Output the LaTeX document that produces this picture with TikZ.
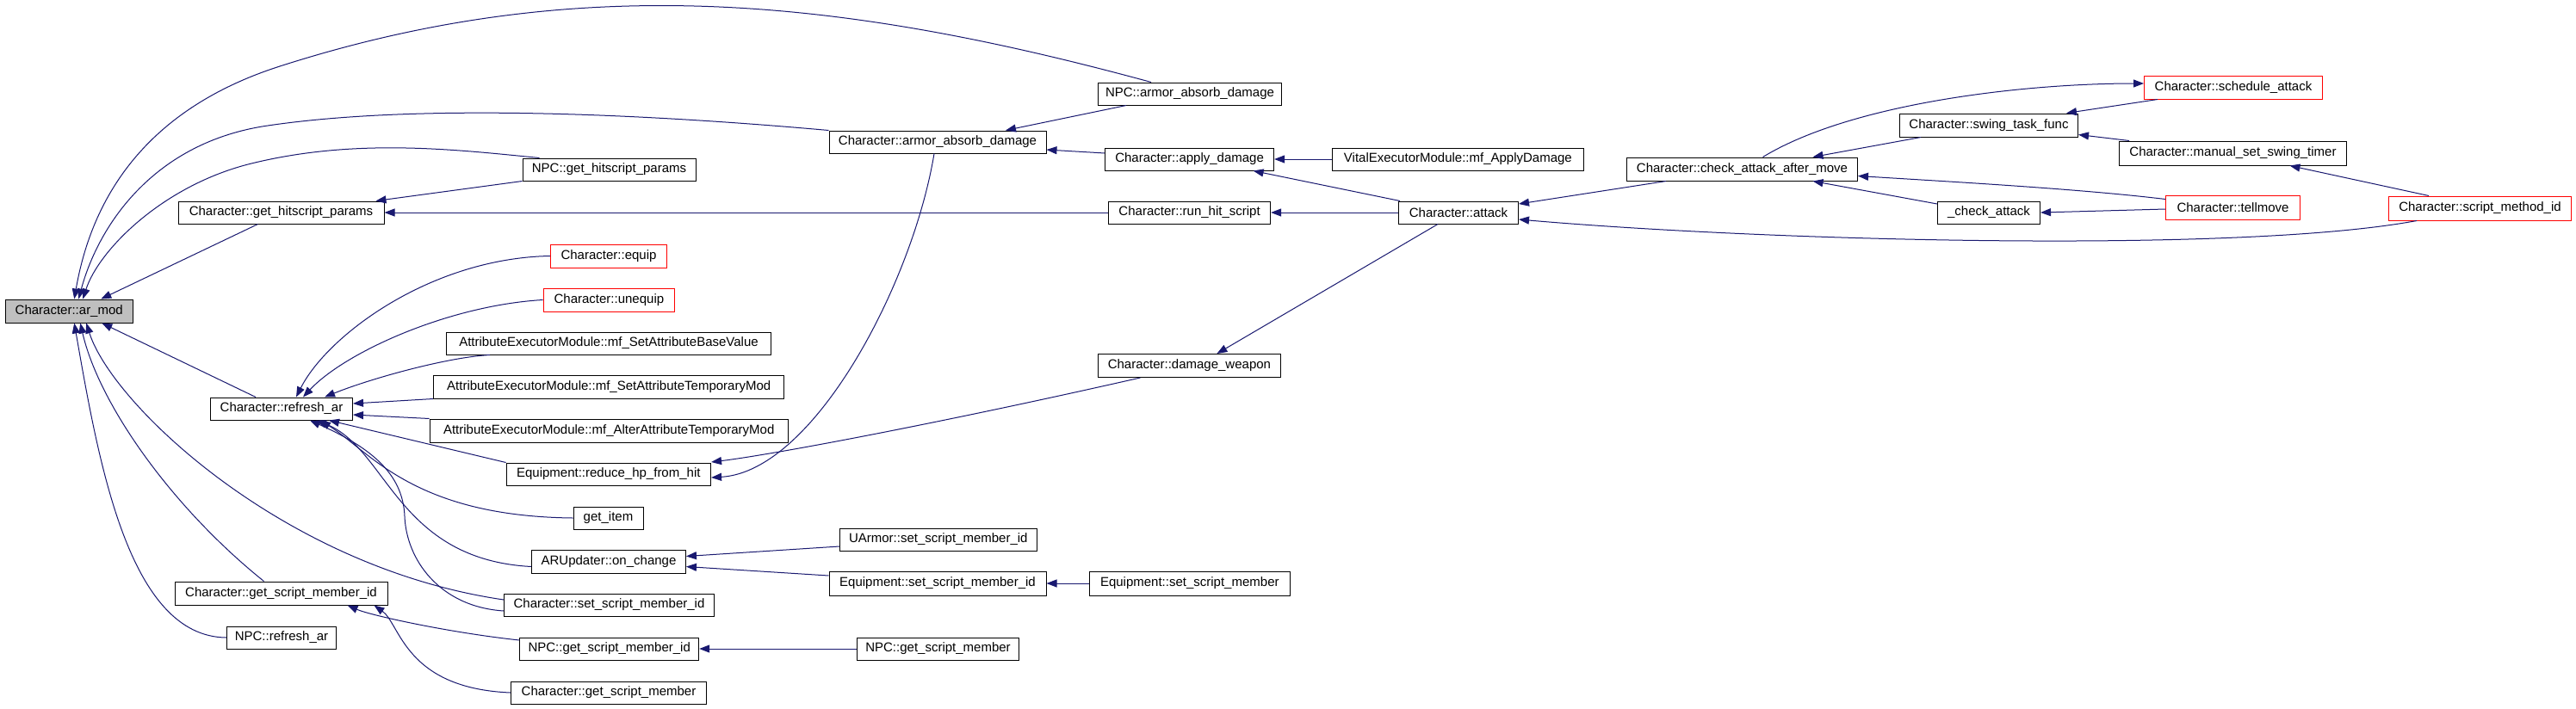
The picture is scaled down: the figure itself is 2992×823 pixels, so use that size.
\documentclass[tikz,border=0pt]{standalone}
\usepackage{fontspec}
\setmainfont{Liberation Sans}
\usetikzlibrary{arrows.meta}
\definecolor{edgeblue}{HTML}{191970}
\definecolor{nodegray}{HTML}{BFBFBF}
\definecolor{nodered}{HTML}{FF0000}
\begin{document}
\begin{tikzpicture}[x=1pt,y=-1pt,
  box/.style={draw=black, line width=1pt, inner sep=0pt, minimum height=27pt, font=\fontsize{15}{17}\selectfont, anchor=center},
  redbox/.style={box, draw=nodered},
  edge/.style={draw=edgeblue, line width=1pt, {Triangle[length=12pt,width=9pt]}-}]
\useasboundingbox (0,0) rectangle (2992,823);
\fill[white] (0,0) rectangle (2992,823);

% column 1
\node[box, minimum width=148.5pt, fill=nodegray] (armod) at (80.25,361.5) {Character::ar\_mod};
% column 2
\node[box, minimum width=239pt, minimum height=26pt] (gethit) at (326.5,247) {Character::get\_hitscript\_params};
\node[box, minimum width=165pt, minimum height=26pt] (refresh) at (327,475) {Character::refresh\_ar};
\node[box, minimum width=247pt] (getsmid) at (326.5,689.5) {Character::get\_script\_member\_id};
\node[box, minimum width=127pt, minimum height=26pt] (npcrefresh) at (327,741) {NPC::refresh\_ar};
% column 3
\node[box, minimum width=201pt, minimum height=26pt] (npcgethit) at (707.5,197) {NPC::get\_hitscript\_params};
\node[redbox, minimum width=135pt] (equip) at (707,297.5) {Character::equip};
\node[redbox, minimum width=152.7pt] (unequip) at (707.4,348.5) {Character::unequip};
\node[box, minimum width=377pt, minimum height=26pt] (setbase) at (707,399) {AttributeExecutorModule::mf\_SetAttributeBaseValue};
\node[box, minimum width=407pt] (settemp) at (707.2,449.5) {AttributeExecutorModule::mf\_SetAttributeTemporaryMod};
\node[box, minimum width=416pt] (alter) at (707.2,500.5) {AttributeExecutorModule::mf\_AlterAttributeTemporaryMod};
\node[box, minimum width=237.5pt, minimum height=26pt] (reducehp) at (706.8,551) {Equipment::reduce\_hp\_from\_hit};
\node[box, minimum width=81pt, minimum height=26pt] (getitem) at (706.5,602) {get\_item};
\node[box, minimum width=179pt] (onchange) at (707,652.5) {ARUpdater::on\_change};
\node[box, minimum width=244pt, minimum height=26pt] (setsmid) at (707.5,703) {Character::set\_script\_member\_id};
\node[box, minimum width=208pt, minimum height=26pt] (npcgetsmid) at (707.7,754) {NPC::get\_script\_member\_id};
\node[box, minimum width=227pt, minimum height=26pt] (getsm) at (707,805) {Character::get\_script\_member};
% column 4
\node[box, minimum width=252pt, minimum height=26pt] (armor) at (1089,165) {Character::armor\_absorb\_damage};
\node[box, minimum width=228.5pt, minimum height=26pt] (uarmor) at (1089.8,627) {UArmor::set\_script\_member\_id};
\node[box, minimum width=252pt, minimum height=28pt] (equipsetsmid) at (1089,678) {Equipment::set\_script\_member\_id};
\node[box, minimum width=188pt, minimum height=26pt] (npcgetsm) at (1089.5,754) {NPC::get\_script\_member};
% column 5
\node[box, minimum width=213pt, minimum height=26pt] (npcarmor) at (1382,109) {NPC::armor\_absorb\_damage};
\node[box, minimum width=196pt, minimum height=26pt] (apply) at (1381.6,185) {Character::apply\_damage};
\node[box, minimum width=188pt, minimum height=26pt] (runhit) at (1381.6,247) {Character::run\_hit\_script};
\node[box, minimum width=212pt] (dmgweapon) at (1381.4,425) {Character::damage\_weapon};
\node[box, minimum width=233.5pt, minimum height=28pt] (equipsetsm) at (1381.8,678) {Equipment::set\_script\_member};
% column 6
\node[box, minimum width=292pt, minimum height=26pt] (vital) at (1693.4,185) {VitalExecutorModule::mf\_ApplyDamage};
\node[box, minimum width=139pt, minimum height=26pt] (attack) at (1694,247) {Character::attack};
% column 7
\node[box, minimum width=268pt] (check) at (2023.5,196.5) {Character::check\_attack\_after\_move};
% column 8
\node[box, minimum width=207pt] (swing) at (2310,145.5) {Character::swing\_task\_func};
\node[box, minimum width=119pt, minimum height=26pt] (ucheck) at (2310,247) {\_check\_attack};
% column 9
\node[redbox, minimum width=207pt] (sched) at (2594,101.5) {Character::schedule\_attack};
\node[box, minimum width=264pt, minimum height=28pt] (manual) at (2593.5,178) {Character::manual\_set\_swing\_timer};
\node[redbox, minimum width=156pt, minimum height=28pt] (tellmove) at (2593.5,241) {Character::tellmove};
% column 10
\node[redbox, minimum width=212pt, minimum height=28pt] (scriptmid) at (2880.5,242) {Character::script\_method\_id};

% edges into ar_mod
\draw[edge] ([xshift=6pt]armod.north) .. controls (105,240) and (160,130) .. (325,77) .. controls (674,-35) and (979,-2) .. ([xshift=-45pt]npcarmor.north);
\draw[edge] ([xshift=11pt]armod.north) .. controls (115,260) and (180,165) .. (311,146) .. controls (507,117) and (800,137) .. (armor.north west);
\draw[edge] ([xshift=16pt]armod.north) .. controls (115,290) and (190,215) .. (292,190) .. controls (414,160) and (530,174) .. ([xshift=20pt]npcgethit.north west);
\draw[edge] ([xshift=37pt]armod.north) -- ([xshift=-27pt]gethit.south);
\draw[edge] ([xshift=38pt]armod.south) -- ([xshift=-30pt]refresh.north);
\draw[edge] ([xshift=6pt]armod.south) .. controls (115,540) and (150,740) .. (npcrefresh.west);
\draw[edge] ([xshift=13pt]armod.south) .. controls (115,470) and (200,590) .. ([xshift=-20pt]getsmid.north);
\draw[edge] ([xshift=20pt]armod.south) .. controls (130,470) and (330,660) .. ([yshift=6pt]setsmid.west);

% edges into refresh_ar
\draw[edge] ([xshift=17pt]refresh.north) .. controls (380,390) and (500,300) .. (equip.west);
\draw[edge] ([xshift=25pt]refresh.north) .. controls (400,410) and (520,355) .. (unequip.west);
\draw[edge] ([xshift=50pt]refresh.north) .. controls (430,440) and (520,415) .. ([xshift=-138pt]setbase.south);
\draw[edge] ([yshift=6pt]refresh.east) -- (settemp.south west);
\draw[edge] ([yshift=-7pt]refresh.east) -- (alter.north west);
\draw[edge] ([xshift=55pt]refresh.south) -- (reducehp.north west);
\draw[edge] ([xshift=45pt]refresh.south) .. controls (430,525) and (480,600) .. (getitem.west);
\draw[edge] ([xshift=40pt]refresh.south) .. controls (450,520) and (460,650) .. ([yshift=-6pt]onchange.west);
\draw[edge] ([xshift=33pt]refresh.south) .. controls (430,520) and (468,550) .. (470,600) .. controls (472,650) and (510,705) .. ([yshift=-7pt]setsmid.west);

% get_hitscript_params
\draw[edge] ([xshift=-10pt]gethit.north east) -- (npcgethit.south west);
\draw[edge] (gethit.east) -- (runhit.west);

% armor_absorb_damage
\draw[edge] ([xshift=79pt]armor.north) -- ([xshift=33pt]npcarmor.south west);
\draw[edge] ([yshift=-9pt]armor.east) -- ([yshift=7pt]apply.west);

% reduce_hp_from_hit
\draw[edge] ([yshift=-4pt]reducehp.east) .. controls (945,548) and (1060,330) .. ([xshift=-4pt]armor.south);
\draw[edge] ([yshift=14pt]reducehp.east) .. controls (900,528) and (1100,490) .. ([xshift=-57pt]dmgweapon.south);

% apply_damage, run_hit_script, damage_weapon
\draw[edge] (apply.east) -- (vital.west);
\draw[edge] ([xshift=74pt]apply.south) -- ([xshift=2pt]attack.north west);
\draw[edge] (runhit.east) -- (attack.west);
\draw[edge] ([xshift=32pt]dmgweapon.north) -- ([xshift=-24pt]attack.south);

% attack
\draw[edge] ([yshift=10pt]attack.east) -- ([xshift=46pt]check.south west);
\draw[edge] ([yshift=-8pt]attack.east) .. controls (2050,280) and (2600,295) .. ([xshift=33pt]scriptmid.south west);

% check_attack_after_move
\draw[edge] ([yshift=4.5pt]sched.west) .. controls (2350,97) and (2150,120) .. ([xshift=24pt]check.north);
\draw[edge] ([xshift=82pt]check.north) -- ([xshift=25pt]swing.south west);
\draw[edge] ([yshift=-8pt]check.east) .. controls (2280,212) and (2420,220) .. ([yshift=-5pt]tellmove.north west);
\draw[edge] ([xshift=82pt]check.south) -- ([yshift=10pt]ucheck.west);

% swing_task_func, manual, _check_attack
\draw[edge] ([xshift=-14pt]swing.north east) -- ([xshift=16pt]sched.south west);
\draw[edge] ([yshift=3pt]swing.south east) -- ([xshift=12pt]manual.north west);
\draw[edge] ([xshift=66pt]manual.south) -- ([xshift=47pt]scriptmid.north west);
\draw[edge] (ucheck.east) -- ([yshift=-2pt]tellmove.west);

% on_change and script member
\draw[edge] ([yshift=6pt]onchange.east) -- ([yshift=-8pt]uarmor.west);
\draw[edge] ([yshift=-6pt]onchange.east) -- ([yshift=9pt]equipsetsmid.west);
\draw[edge] (equipsetsmid.east) -- (equipsetsm.west);
\draw[edge] ([xshift=77pt]getsmid.south) .. controls (430,715) and (520,735) .. ([yshift=10pt]npcgetsmid.west);
\draw[edge] ([xshift=108pt]getsmid.south) .. controls (465,725) and (470,800) .. (getsm.west);
\draw[edge] (npcgetsmid.east) -- (npcgetsm.west);
\end{tikzpicture}
\end{document}
